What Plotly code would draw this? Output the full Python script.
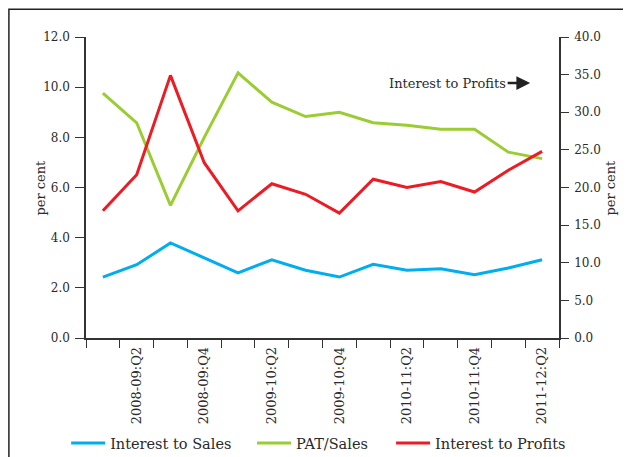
import plotly.graph_objects as go

quarters = ["2008-09:Q1", "2008-09:Q2", "2008-09:Q3", "2008-09:Q4",
            "2009-10:Q1", "2009-10:Q2", "2009-10:Q3", "2009-10:Q4",
            "2010-11:Q1", "2010-11:Q2", "2010-11:Q3", "2010-11:Q4",
            "2011-12:Q1", "2011-12:Q2"]
interest_to_sales = [2.43, 2.92, 3.79, 3.20, 2.60, 3.12, 2.70, 2.43, 2.94, 2.70, 2.76, 2.52, 2.79, 3.12]
pat_sales = [9.76, 8.58, 5.29, 8.0, 10.57, 9.40, 8.83, 9.0, 8.58, 8.48, 8.32, 8.32, 7.41, 7.15]
interest_to_profits = [16.9, 21.7, 34.9, 23.3, 16.9, 20.5, 19.1, 16.6, 21.1, 20.0, 20.8, 19.4, 22.3, 24.8]
tick_text = [q if i % 2 == 1 else "" for i, q in enumerate(quarters)]
left_ticks = [0, 2, 4, 6, 8, 10, 12]
right_ticks = [0, 5, 10, 15, 20, 25, 30, 35, 40]

FONT = "DejaVu Serif"
TXT = "#2a2a2a"
AX = "#333333"

fig = go.Figure()
fig.add_trace(go.Scatter(x=quarters, y=interest_to_sales, name="Interest to Sales",
                         mode="lines", line=dict(color="#00AEEF", width=3), legend="legend"))
fig.add_trace(go.Scatter(x=quarters, y=pat_sales, name="PAT/Sales",
                         mode="lines", line=dict(color="#9ACD32", width=3), legend="legend2"))
fig.add_trace(go.Scatter(x=quarters, y=interest_to_profits, name="Interest to Profits",
                         mode="lines", line=dict(color="#ED1C24", width=3), yaxis="y2",
                         legend="legend3"))

leg_common = dict(orientation="h", xanchor="left", y=-0.349, yanchor="middle",
                  font=dict(family=FONT, size=14.5, color=TXT), bgcolor="rgba(0,0,0,0)",
                  itemwidth=34)

fig.update_layout(
    width=623, height=449,
    margin=dict(l=78, r=72, t=29, b=119, autoexpand=False),
    paper_bgcolor="white", plot_bgcolor="white",
    font=dict(family=FONT, color=TXT, size=12),
    showlegend=True,
    legend=dict(x=-0.042, **leg_common),
    legend2=dict(x=0.351, **leg_common),
    legend3=dict(x=0.645, **leg_common),
    xaxis=dict(type="category", tickmode="array", tickvals=quarters, ticktext=tick_text,
               tickson="boundaries", ticks="outside", ticklen=8, tickwidth=1.2, tickcolor=AX,
               tickangle=-90, showline=True, linecolor=AX, linewidth=1.5, showgrid=False,
               zeroline=False, tickfont=dict(size=13, family=FONT, color=TXT),
               range=[-0.5, 13.5], automargin=False, ticklabelstandoff=2),
    yaxis=dict(range=[0, 12], tickmode="array", tickvals=left_ticks, tickformat=".1f",
               ticks="outside", ticklen=9, tickwidth=1.2, tickcolor=AX, showline=True,
               linecolor=AX, linewidth=1.5, showgrid=False, zeroline=False,
               tickfont=dict(size=12, family=FONT, color=TXT), automargin=False,
               ticklabelstandoff=3),
    yaxis2=dict(range=[0, 40], tickmode="array", tickvals=right_ticks, tickformat=".1f",
                overlaying="y", side="right", ticks="outside", ticklen=8, tickwidth=1.2,
                tickcolor=AX, showline=True, linecolor=AX, linewidth=1.5, showgrid=False,
                zeroline=False, tickfont=dict(size=12, family=FONT, color=TXT),
                automargin=False, ticklabelstandoff=3),
    shapes=[dict(type="rect", xref="paper", yref="paper", x0=-0.163, x1=1.25,
                 y0=-0.6, y1=1.092, line=dict(color="#222222", width=1.5),
                 fillcolor="rgba(0,0,0,0)", layer="below")],
    annotations=[
        dict(text="per cent", xref="paper", yref="paper", x=-0.097, y=0.5, textangle=-90,
             showarrow=False, font=dict(size=13, family=FONT, color=TXT),
             xanchor="center", yanchor="middle"),
        dict(text="per cent", xref="paper", yref="paper", x=1.108, y=0.5, textangle=-90,
             showarrow=False, font=dict(size=13, family=FONT, color=TXT),
             xanchor="center", yanchor="middle"),
        dict(text="Interest to Profits", xref="paper", yref="paper", x=0.892, y=0.847,
             xanchor="right", yanchor="middle", showarrow=False,
             font=dict(size=13, family=FONT, color=TXT)),
        dict(text="", xref="paper", yref="paper", x=0.939, y=0.847, ax=-24, ay=0,
             showarrow=True, arrowhead=2, arrowsize=1.1, arrowwidth=2.5, arrowcolor="#222222",
             standoff=0),
    ],
)

fig.write_html("out.html")
